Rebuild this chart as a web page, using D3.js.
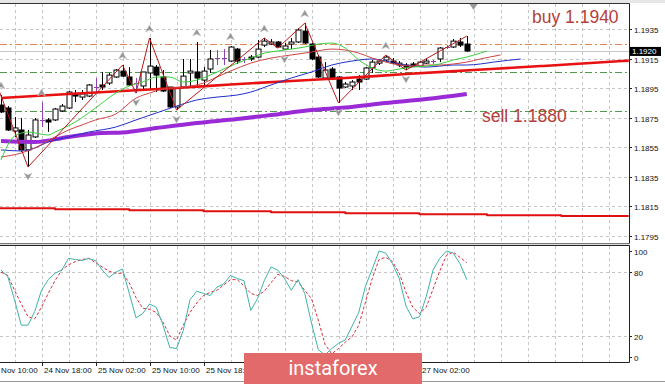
<!DOCTYPE html>
<html><head><meta charset="utf-8">
<script src="https://cdnjs.cloudflare.com/ajax/libs/d3/7.8.5/d3.min.js"></script>
<style>html,body{margin:0;padding:0;background:#fff;overflow:hidden}</style>
</head><body><svg id="c" width="665" height="384"></svg>
<script>
// ---------- DATA (EURUSD H1) ----------
const open  = [1.18837,1.18817,1.18661,1.18668,1.18533,1.18621,1.18736,1.18736,1.18736,1.18797,1.18817,1.18912,1.18891,1.18898,1.18959,1.18973,1.18986,1.19027,1.19067,1.19027,1.18986,1.18966,1.19054,1.19094,1.19027,1.18959,1.18824,1.18959,1.19054,1.19061,1.19006,1.19081,1.19155,1.19155,1.19135,1.19216,1.19149,1.19162,1.19162,1.19243,1.19250,1.19264,1.19216,1.19250,1.19264,1.19338,1.19250,1.19162,1.19020,1.19081,1.19027,1.18959,1.18966,1.19013,1.19013,1.19088,1.19121,1.19142,1.19135,1.19108,1.19108,1.19115,1.19101,1.19121,1.19135,1.19149,1.19230,1.19230,1.19264,1.19250];
const high  = [1.18905,1.18830,1.18756,1.18749,1.18668,1.18749,1.18857,1.18749,1.18817,1.18844,1.18932,1.18939,1.18939,1.18979,1.19020,1.19061,1.19054,1.19081,1.19108,1.19094,1.19020,1.19061,1.19291,1.19108,1.19074,1.18959,1.18959,1.19149,1.19149,1.19264,1.19094,1.19210,1.19210,1.19216,1.19237,1.19223,1.19162,1.19176,1.19277,1.19291,1.19284,1.19270,1.19257,1.19291,1.19358,1.19392,1.19257,1.19176,1.19128,1.19094,1.19033,1.18993,1.19006,1.19040,1.19094,1.19142,1.19149,1.19176,1.19155,1.19135,1.19121,1.19128,1.19135,1.19149,1.19142,1.19230,1.19243,1.19284,1.19291,1.19304];
const low   = [1.18783,1.18661,1.18621,1.18519,1.18417,1.18614,1.18688,1.18655,1.18729,1.18790,1.18810,1.18857,1.18871,1.18891,1.18925,1.18939,1.18973,1.19020,1.19027,1.18966,1.18918,1.18939,1.18939,1.18925,1.18925,1.18817,1.18803,1.18952,1.18959,1.18959,1.18973,1.19054,1.19108,1.19108,1.19128,1.19115,1.19121,1.19135,1.19155,1.19230,1.19243,1.19223,1.19210,1.19216,1.19257,1.19250,1.19142,1.19020,1.19013,1.19006,1.18851,1.18952,1.18939,1.18939,1.19006,1.19054,1.19108,1.19128,1.19115,1.19094,1.19074,1.19094,1.19094,1.19115,1.19115,1.19128,1.19216,1.19223,1.19230,1.19196];
const close = [1.18790,1.18668,1.18682,1.18533,1.18634,1.18736,1.18736,1.18722,1.18810,1.18830,1.18925,1.18898,1.18912,1.18973,1.18959,1.18959,1.19040,1.19074,1.19033,1.18973,1.18986,1.19061,1.19101,1.19040,1.18932,1.18824,1.18952,1.19033,1.19067,1.19020,1.19067,1.19149,1.19155,1.19155,1.19230,1.19135,1.19149,1.19149,1.19216,1.19270,1.19264,1.19230,1.19237,1.19264,1.19345,1.19257,1.19149,1.19027,1.19074,1.19013,1.18952,1.18979,1.18993,1.18993,1.19088,1.19128,1.19135,1.19162,1.19121,1.19121,1.19094,1.19101,1.19128,1.19135,1.19135,1.19223,1.19230,1.19270,1.19243,1.19203];

// Alligator lines (bar index, price) – shifted forward
const lipsIdx  = [0,2,4,7,8,11,14,17,19,21,23,25,27,29,31,33,35,37,39,41,43,45,47,49,51,53,55,57,59,61,63,65,67,69,71,72];
const lipsVal  = [1.18465,1.18627,1.18654,1.18634,1.18654,1.18722,1.18817,1.18918,1.18966,1.18993,1.19027,1.19027,1.18993,1.19006,1.19040,1.19081,1.19121,1.19155,1.19189,1.19203,1.19216,1.19230,1.19250,1.19257,1.19223,1.19142,1.19088,1.19067,1.19081,1.19094,1.19101,1.19115,1.19142,1.19162,1.19189,1.19203];
const teethIdx = [0,3,5,8,10,12,14,17,20,22,24,27,30,32,34,37,40,43,46,49,51,53,55,57,59,61,63,65,67,69,71,74];
const teethVal = [1.18485,1.18512,1.18546,1.18621,1.18668,1.18702,1.18736,1.18776,1.18884,1.18918,1.18945,1.18959,1.18986,1.19027,1.19067,1.19121,1.19155,1.19176,1.19196,1.19216,1.19210,1.19189,1.19155,1.19128,1.19108,1.19101,1.19108,1.19108,1.19115,1.19128,1.19149,1.19176];
const jawIdx   = [0,3,5,7,10,13,17,20,23,26,29,32,35,37,40,43,46,49,52,55,57,59,61,63,65,67,69,71,73,77];
const jawVal   = [1.18533,1.18526,1.18546,1.18587,1.18621,1.18654,1.18688,1.18736,1.18783,1.18830,1.18871,1.18891,1.18905,1.18925,1.18973,1.19020,1.19061,1.19108,1.19135,1.19149,1.19135,1.19115,1.19101,1.19094,1.19101,1.19108,1.19108,1.19115,1.19128,1.19149];

// Long moving averages
const maRedIdx = [0,10,18,26,34,43,51,60,70,80,92,93];
const maRedVal = [1.18885,1.18912,1.18932,1.18952,1.18976,1.19000,1.19020,1.19047,1.19074,1.19101,1.19135,1.19138];
const maPurIdx = [0,5,10,15,18,23,29,35,40,46,51,57,63,69];
const maPurVal = [1.18593,1.18587,1.18621,1.18648,1.18651,1.18681,1.18715,1.18742,1.18769,1.18803,1.18820,1.18851,1.18878,1.18912];
const maLowIdx = [-1,8,19,30,40,51,62,72,83,93];
const maLowVal = [1.18138,1.18131,1.18124,1.18118,1.18111,1.18104,1.18097,1.18091,1.18085,1.18085];

// ZigZag
const zzIdx = [-1,4,18,20,22,26,39,41,45,50,57,60,69];
const zzVal = [1.19020,1.18417,1.19108,1.18918,1.19291,1.18803,1.19291,1.19223,1.19392,1.18851,1.19176,1.19074,1.19304];

// Fractals
const fracUp   = [0,6,18,22,29,34,39,45,57];
const fracDown = [4,20,26,42,50,60];

// Levels
const levelOrange = 1.1925, levelBid = 1.1920, levelGreen1 = 1.1906, levelGreen2 = 1.1880;
const buyText = "buy 1.1940", sellText = "sell 1.1880";
const buyAt = 1.1939, sellAt = 1.1872;

// Stochastic %K and %D
const stochK = [82,76,54,30,30,43,63,73,79,82,93,92,91,93,91,82,75,80,83,60,37,41,50,47,30,9,8,25,54,62,60,58,66,69,77,74,72,44,55,72,85,82,74,63,73,60,32,7,2,8,13,16,29,42,67,83,100,98,88,74,48,36,38,57,82,93,100,98,88,73];
const stochD = [80,77,63,50,38,36,47,60,72,82,87,90,92,93,89,85,81,79,79,70,56,46,45,42,33,20,16,30,42,51,58,61,63,68,73,73,67,60,58,62,70,78,76,72,71,63,55,35,12,3,8,14,19,30,52,74,92,94,90,79,61,47,41,47,64,81,96,99,94,89];

// Axes
const priceTicks = [1.1795,1.1815,1.1835,1.1855,1.1875,1.1895,1.1915,1.1935];
const stochTicks = [0,20,80,100];
const timeIdx = [-2,6,14,22,30,38,46,54,62];
const timeLabels = ["24 Nov 10:00","24 Nov 18:00","25 Nov 02:00","25 Nov 10:00","25 Nov 18:00","26 Nov 02:00","26 Nov 10:00","26 Nov 18:00","27 Nov 02:00"];
const shiftIdx = 70;

// ---------- DRAW ----------
const svg = d3.select('#c');
const R = 629; // right edge of plot
const x  = d3.scaleLinear().domain([0,1]).range([1,7.75]);
const y  = d3.scaleLinear().domain([1.1795,1.1935]).range([236,29.3]);
const ys = d3.scaleLinear().domain([0,100]).range([357,251]);
const MT = 4, MB = 243, ST = 246, SB = 362;
const logo = {x0:244, x1:422, y0:353};

const defs = svg.append('defs');
defs.append('clipPath').attr('id','cm').append('rect').attr('x',0).attr('y',MT).attr('width',R).attr('height',MB-MT);
defs.append('clipPath').attr('id','cs').append('rect').attr('x',0).attr('y',ST).attr('width',R).attr('height',SB-ST);
defs.append('clipPath').attr('id','cx').append('rect').attr('x',0).attr('y',0).attr('width',665).attr('height',384);

svg.append('rect').attr('x',0).attr('y',0).attr('width',665).attr('height',384).attr('fill','#fff');
svg.append('rect').attr('x',0).attr('y',0).attr('width',665).attr('height',MT-1).attr('fill','#e6e6e6');
svg.append('rect').attr('x',0).attr('y',MB).attr('width',R+1).attr('height',ST-MB).attr('fill','#dcdcdc');

const main = svg.append('g').attr('clip-path','url(#cm)');
const sto  = svg.append('g').attr('clip-path','url(#cs)');

const gridIdx = d3.range(-2, 93, 4);
const gc = '#c6c6c6', gd = '3,3';
main.selectAll('.vg').data(gridIdx).enter().append('line')
  .attr('x1',d=>Math.round(x(d))+0.5).attr('x2',d=>Math.round(x(d))+0.5).attr('y1',MT).attr('y2',MB)
  .attr('stroke',gc).attr('stroke-dasharray',gd);
main.selectAll('.hg').data(priceTicks).enter().append('line')
  .attr('x1',0).attr('x2',R).attr('y1',d=>Math.round(y(d))+0.5).attr('y2',d=>Math.round(y(d))+0.5)
  .attr('stroke',gc).attr('stroke-dasharray',gd);
sto.selectAll('.vg').data(gridIdx).enter().append('line')
  .attr('x1',d=>Math.round(x(d))+0.5).attr('x2',d=>Math.round(x(d))+0.5).attr('y1',ST).attr('y2',SB)
  .attr('stroke',gc).attr('stroke-dasharray',gd);
sto.selectAll('.hg').data([20,80]).enter().append('line')
  .attr('x1',0).attr('x2',R).attr('y1',d=>Math.round(ys(d))+0.5).attr('y2',d=>Math.round(ys(d))+0.5)
  .attr('stroke',gc).attr('stroke-dasharray',gd);

function hline(p, col, dash, w){
  main.append('line').attr('x1',0).attr('x2',R).attr('y1',Math.round(y(p))+0.5).attr('y2',Math.round(y(p))+0.5)
    .attr('stroke',col).attr('stroke-width',w||1).attr('stroke-dasharray',dash);
}
hline(levelBid,'#c8c8c8',null,1);
hline(levelOrange,'#e0845a','7,3,2,3',1);
hline(levelGreen1,'#4f9a4f','7,3,2,3',1);
hline(levelGreen2,'#4f9a4f','7,3,2,3',1);

// candles
const bars = d3.range(open.length).map(i=>({i,o:open[i],h:high[i],l:low[i],c:close[i]}));
const cg = main.append('g');
bars.forEach(b=>{
  const cx = Math.round(x(b.i))+0.5;
  const doji = b.o===b.c;
  const col = doji ? '#9040b0' : '#000';
  cg.append('line').attr('x1',cx).attr('x2',cx).attr('y1',y(b.h)).attr('y2',y(b.l)).attr('stroke',col);
  if (doji){
    cg.append('line').attr('x1',cx-2.5).attr('x2',cx+2.5).attr('y1',Math.round(y(b.o))+0.5).attr('y2',Math.round(y(b.o))+0.5).attr('stroke',col);
  } else {
    const t = y(Math.max(b.o,b.c)), bt = y(Math.min(b.o,b.c));
    cg.append('rect').attr('x',cx-2.5).attr('y',t).attr('width',5).attr('height',Math.max(1,bt-t))
      .attr('fill', b.c>b.o ? '#fff' : '#000').attr('stroke','#000').attr('stroke-width',1);
  }
});

function series(g, idx, val, col, w, curve, scale, dash){
  const line = d3.line().x(d=>x(d[0])).y(d=>(scale||y)(d[1])).curve(curve||d3.curveMonotoneX);
  g.append('path').datum(idx.map((d,k)=>[d,val[k]])).attr('d',line)
    .attr('fill','none').attr('stroke',col).attr('stroke-width',w).attr('stroke-dasharray',dash||null)
    .attr('stroke-linejoin','round');
}
series(main, maLowIdx, maLowVal, '#e01010', 2, d3.curveStepAfter);
series(main, maPurIdx, maPurVal, '#9a2ad6', 4);
series(main, maRedIdx, maRedVal, '#e81010', 2.6);
series(main, jawIdx, jawVal, '#2030c8', 1);
series(main, teethIdx, teethVal, '#cc4444', 1);
series(main, lipsIdx, lipsVal, '#3ad03a', 1);
series(main, zzIdx, zzVal, '#b81818', 1, d3.curveLinear);

// fractals
const fg = main.append('g').attr('fill','#959595').attr('stroke','#c4c4c4').attr('stroke-width',0.5);
fracUp.forEach(i=>{
  const cx = x(i), cy = y(high[i]) - 9;
  fg.append('path').attr('d',`M${cx},${cy-4} L${cx+4},${cy+3} L${cx},${cy+1} L${cx-4},${cy+3} Z`);
});
fracDown.forEach(i=>{
  const cx = x(i), cy = y(low[i]) + 9;
  fg.append('path').attr('d',`M${cx},${cy+4} L${cx+4},${cy-3} L${cx},${cy-1} L${cx-4},${cy-3} Z`);
});

// texts
main.append('text').attr('x',532).attr('y',y(buyAt)).text(buyText)
  .attr('font-family','Liberation Sans, Arial, sans-serif').attr('font-size',17.5).attr('fill','#b5403a');
main.append('text').attr('x',482).attr('y',y(sellAt)).text(sellText)
  .attr('font-family','Liberation Sans, Arial, sans-serif').attr('font-size',17.5).attr('fill','#b5403a');

// stochastic
series(sto, d3.range(stochD.length), stochD, '#d8303c', 1, d3.curveLinear, ys, '3,2');
series(sto, d3.range(stochK.length), stochK, '#3fb3aa', 1, d3.curveLinear, ys);

// frames
svg.append('line').attr('x1',0).attr('x2',R+0.5).attr('y1',MT-0.5).attr('y2',MT-0.5).attr('stroke','#333');
svg.append('line').attr('x1',0).attr('x2',R+0.5).attr('y1',MB+0.5).attr('y2',MB+0.5).attr('stroke','#777');
svg.append('line').attr('x1',R+0.5).attr('x2',R+0.5).attr('y1',MT-0.5).attr('y2',MB+0.5).attr('stroke','#222');
svg.append('line').attr('x1',0).attr('x2',R+0.5).attr('y1',ST-0.5).attr('y2',ST-0.5).attr('stroke','#222');
svg.append('line').attr('x1',0).attr('x2',R+0.5).attr('y1',SB+0.5).attr('y2',SB+0.5).attr('stroke','#222');
svg.append('line').attr('x1',R+0.5).attr('x2',R+0.5).attr('y1',ST-0.5).attr('y2',SB+0.5).attr('stroke','#222');
svg.append('line').attr('x1',0).attr('x2',665).attr('y1',381.5).attr('y2',381.5).attr('stroke','#999');

// chart shift marker
svg.append('path').attr('d',`M${x(shiftIdx)-4},${MT} L${x(shiftIdx)+4},${MT} L${x(shiftIdx)},${MT+6} Z`).attr('fill','#9a9a9a');

// price axis
const font = 'Liberation Sans, Arial, sans-serif';
const pa = svg.append('g');
priceTicks.forEach(p=>{
  const yy = Math.round(y(p))+0.5;
  pa.append('line').attr('x1',R).attr('x2',R+3).attr('y1',yy).attr('y2',yy).attr('stroke','#222');
  pa.append('text').attr('x',R+5).attr('y',yy+3).text(p.toFixed(4)).attr('font-family',font).attr('font-size',8).attr('fill','#111');
});
const by = y(levelBid);
pa.append('rect').attr('x',R+1).attr('y',by-4.5).attr('width',31).attr('height',9).attr('fill','#000');
pa.append('text').attr('x',R+3).attr('y',by+3).text(levelBid.toFixed(4)).attr('font-family',font).attr('font-size',8).attr('fill','#fff');

stochTicks.forEach(v=>{
  const yy = Math.round(ys(v))+0.5;
  pa.append('line').attr('x1',R).attr('x2',R+3).attr('y1',yy).attr('y2',yy).attr('stroke','#222');
  pa.append('text').attr('x',R+5).attr('y',yy+3).text(v).attr('font-family',font).attr('font-size',8).attr('fill','#111');
});

// time axis (labels fully under the logo are not visible in the source, so they are skipped)
const ta = svg.append('g');
timeIdx.forEach((t,k)=>{
  const xx = Math.round(x(t))+0.5;
  const tx = xx+1.5, approxW = 48;
  const hidden = tx >= logo.x0 && tx + approxW <= logo.x1;
  ta.append('line').attr('x1',xx).attr('x2',xx).attr('y1',SB).attr('y2',SB+4).attr('stroke','#222');
  if (!hidden) ta.append('text').attr('x',tx).attr('y',373).text(timeLabels[k]).attr('font-family',font).attr('font-size',8).attr('fill','#111');
});

// logo
svg.append('rect').attr('x',logo.x0).attr('y',logo.y0).attr('width',logo.x1-logo.x0).attr('height',384-logo.y0).attr('fill','#e26a6a');
svg.append('text').attr('x',(logo.x0+logo.x1)/2).attr('y',375).attr('text-anchor','middle').text('instaforex')
  .attr('font-family','Roboto, Liberation Sans, sans-serif').attr('font-size',20).attr('fill','#fff');
</script></body></html>
